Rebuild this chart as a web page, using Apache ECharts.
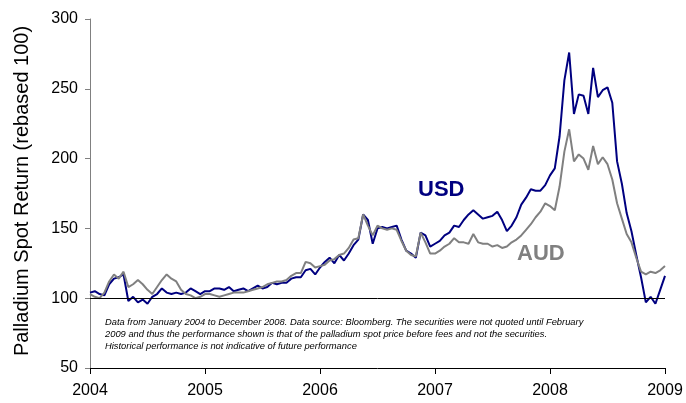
<!DOCTYPE html>
<html>
<head>
<meta charset="utf-8">
<script src="https://cdn.jsdelivr.net/npm/echarts@6/dist/echarts.min.js"></script>
<style>
    html, body { margin: 0; padding: 0; background: #fff; }
    #palchart { width: 686px; height: 403px; }
</style>
</head>
<body>
<div id="palchart"></div>
<script>
    // half-monthly readings, Jan 2004 .. Jan 2009 (24 points a year)
    var startYear = 2004;
    var perYear = 24;
    var yearTicks = [2004, 2005, 2006, 2007, 2008, 2009];

    var usd = [
        104,105,103,102,110,114,115,117,98,101,97,99,96,101,103,107,104,103,104,103,104,107,105,103,
        105,105,107,107,106,108,105,106,107,105,107,109,107,108,111,110,111,111,114,115,115,120,121,117,
        122,126,129,125,131,127,132,138,142,160,156,139,150,151,150,151,152,142,134,132,129,147,145,137,
        139,141,145,147,152,151,156,160,163,160,157,158,159,162,156,148,152,158,167,172,178,177,177,181,
        188,193,216,256,276,232,246,245,232,265,244,249,251,240,198,182,161,148,131,115,97,101,96,106,
        116
    ];
    var aud = [
        103,101,100,104,112,117,114,119,108,110,113,110,106,103,108,113,117,114,112,106,103,102,100,101,
        103,103,102,101,102,103,104,104,104,105,106,107,108,110,111,112,112,113,116,118,118,126,125,122,
        123,124,127,128,131,132,136,142,143,160,152,145,152,150,149,150,149,141,134,131,130,147,140,132,
        132,134,137,139,143,140,140,139,146,140,139,139,137,138,136,137,140,142,145,149,153,158,162,168,
        166,163,180,205,221,198,203,200,192,209,196,201,196,185,168,157,146,140,129,119,117,119,118,120,
        123
    ];

    var yTitle = 'Palladium Spot Return (rebased 100)';
    var noteLines = [
        'Data from January 2004 to December 2008. Data source: Bloomberg. The securities were not quoted until February',
        '2009 and thus the performance shown is that of the palladium spot price before fees and not the securities.',
        'Historical performance is not indicative of future performance'
    ];

    function toPoints(values) {
        var pts = [];
        for (var i = 0; i < values.length; i++) {
            pts.push([startYear + i / perYear, values[i]]);
        }
        return pts;
    }

    var font = 'Liberation Sans, Arial, sans-serif';
    var chart = echarts.init(document.getElementById('palchart'));

    var option = {
        animation: false,
        backgroundColor: '#fff',
        textStyle: { fontFamily: font },
        grid: { left: 90, right: 21, top: 19, bottom: 35 },
        xAxis: {
            type: 'value',
            min: yearTicks[0],
            max: yearTicks[yearTicks.length - 1],
            interval: 1,
            axisLine: { lineStyle: { color: '#000', width: 1 } },
            axisTick: { show: true, length: 6, lineStyle: { color: '#000' } },
            axisLabel: { fontSize: 16, color: '#000', margin: 15, fontFamily: font,
                formatter: function (v) { return String(v); } },
            splitLine: { show: false }
        },
        yAxis: {
            type: 'value',
            min: 50,
            max: 300,
            interval: 50,
            axisLine: { show: true, lineStyle: { color: '#808080', width: 1 } },
            axisTick: { show: true, length: 5, lineStyle: { color: '#808080' } },
            axisLabel: { fontSize: 16, color: '#000', margin: 12, fontFamily: font },
            splitLine: { show: false }
        },
        series: [
            {
                name: 'USD',
                type: 'line',
                symbol: 'none',
                data: toPoints(usd),
                lineStyle: { color: '#000080', width: 2 },
                itemStyle: { color: '#000080' },
                markLine: {
                    silent: true,
                    symbol: 'none',
                    label: { show: false },
                    lineStyle: { color: '#000', width: 1, type: 'solid' },
                    data: [{ yAxis: 100 }]
                },
                z: 2
            },
            {
                name: 'AUD',
                type: 'line',
                symbol: 'none',
                data: toPoints(aud),
                lineStyle: { color: '#808080', width: 2 },
                itemStyle: { color: '#808080' },
                z: 3
            }
        ],
        graphic: [
            { type: 'text', x: 22, y: 191, rotation: Math.PI / 2,
              style: { text: yTitle, fill: '#000', font: '20px ' + font,
                       align: 'center', verticalAlign: 'middle' } },
            { type: 'text', left: 418, top: 179,
              style: { text: 'USD', fill: '#000080', font: 'bold 22px ' + font } },
            { type: 'text', left: 517, top: 243,
              style: { text: 'AUD', fill: '#808080', font: 'bold 22px ' + font } },
            { type: 'text', left: 105, top: 316,
              style: { text: noteLines.join('\n'), fill: '#000', lineHeight: 12,
                       font: 'italic 9.35px ' + font } }
        ]
    };

    chart.setOption(option);
</script>
</body>
</html>
